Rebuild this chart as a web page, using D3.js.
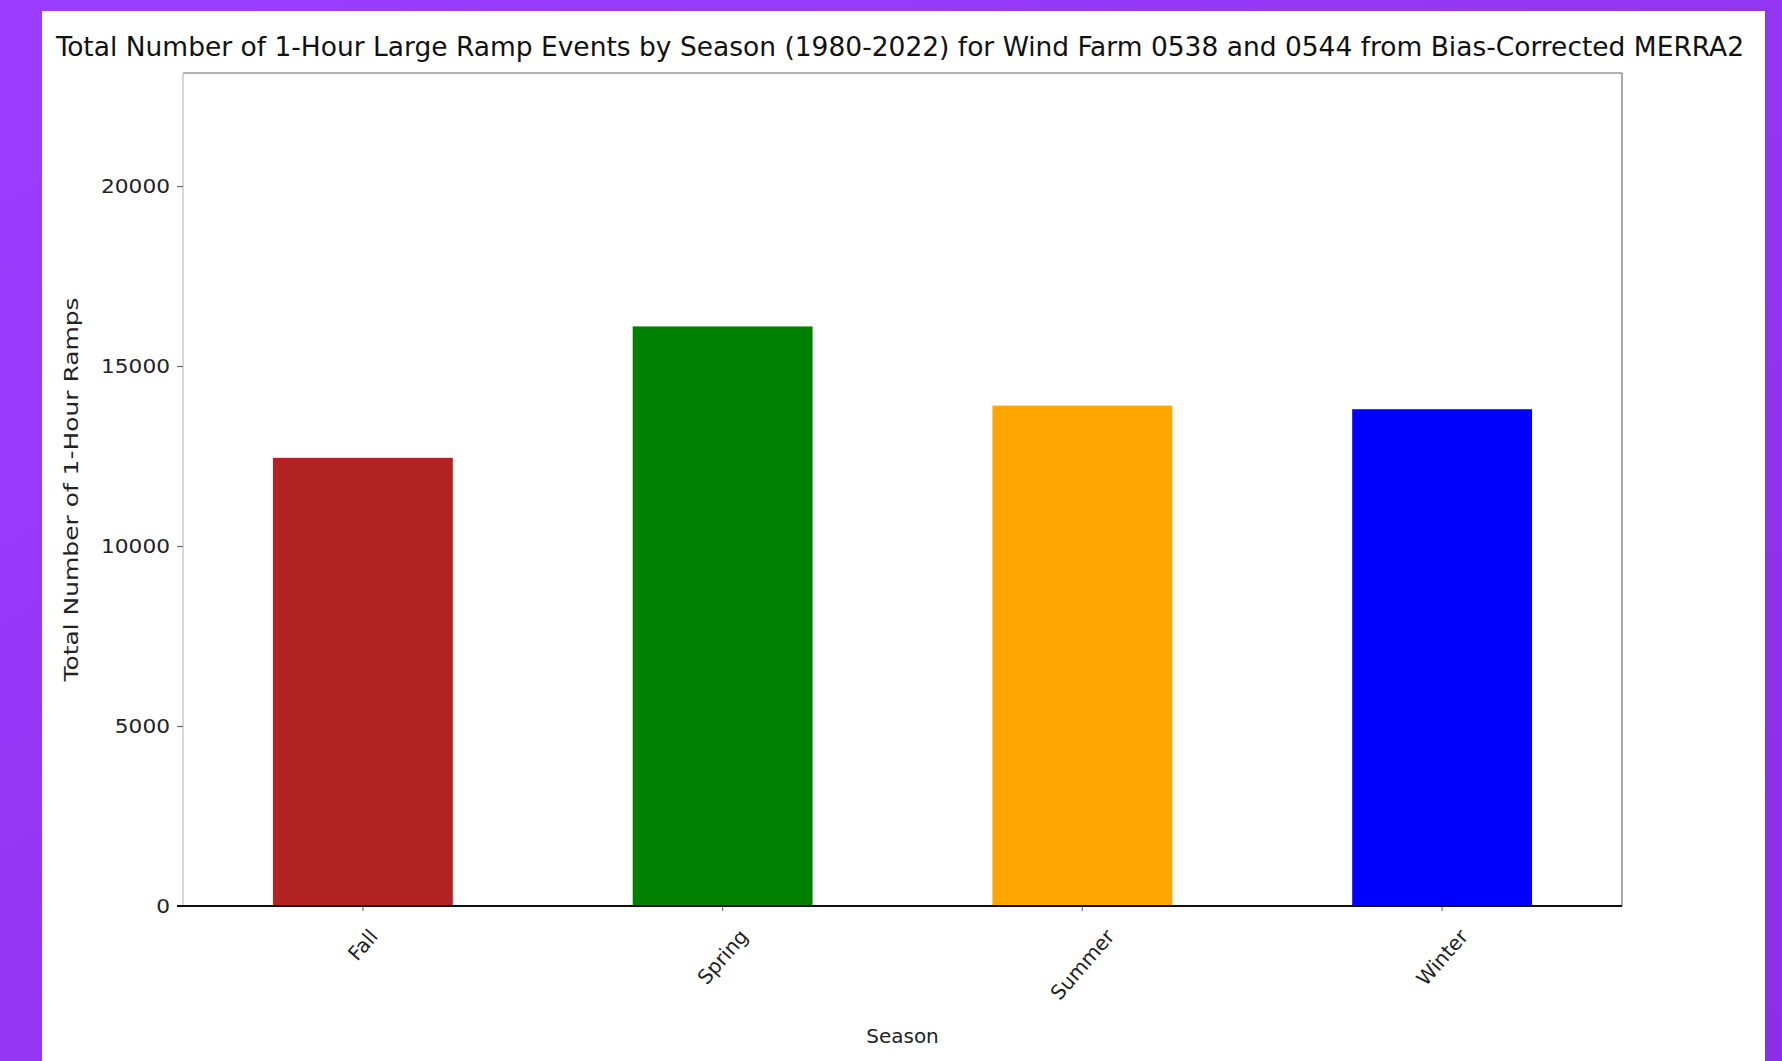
<!DOCTYPE html>
<html>
<head>
<meta charset="utf-8">
<script src="https://cdn.jsdelivr.net/npm/d3@7"></script>
<style>
  html, body { margin: 0; padding: 0; background: #9a3cff; }
  svg { display: block; }
</style>
</head>
<body>
<svg id="chart" width="1782" height="1061"></svg>
<script>
// Seasonal totals of 1-hour large ramp events
const seasons = ["Fall", "Spring", "Summer", "Winter"];
const rampCounts = [12450, 16100, 13900, 13800];
const barColors = ["#b22222", "#008000", "#ffa500", "#0000ff"];
const yTicks = [0, 5000, 10000, 15000, 20000];
const yMax = 23140;

const titleText = "Total Number of 1-Hour Large Ramp Events by Season (1980-2022) for Wind Farm 0538 and 0544 from Bias-Corrected MERRA2";
const xTitle = "Season";
const yTitle = "Total Number of 1-Hour Ramps";

const W = 1782, H = 1061;
const svg = d3.select("#chart");

// purple backdrop and white card
const defs = svg.append("defs");
const grad = defs.append("linearGradient").attr("id", "bg")
  .attr("x1", 0).attr("y1", 0).attr("x2", 1).attr("y2", 1);
grad.append("stop").attr("offset", "0%").attr("stop-color", "#9b3dff");
grad.append("stop").attr("offset", "100%").attr("stop-color", "#8a2fe6");
svg.append("rect").attr("width", W).attr("height", H).attr("fill", "url(#bg)");
svg.append("rect").attr("x", 42).attr("y", 11).attr("width", 1723).attr("height", H - 11)
  .attr("fill", "#ffffff");

const plot = { left: 183, right: 1622, top: 73, bottom: 906 };

const x = d3.scaleBand()
  .domain(seasons)
  .range([plot.left, plot.right])
  .paddingInner(0.5)
  .paddingOuter(0.25);

const y = d3.scaleLinear()
  .domain([0, yMax])
  .range([plot.bottom, plot.top]);

const font = "DejaVu Sans, sans-serif";
const condensed = "DejaVu Sans Condensed, DejaVu Sans, sans-serif";

// bars
svg.append("g").selectAll("rect")
  .data(seasons)
  .join("rect")
  .attr("x", d => x(d))
  .attr("width", x.bandwidth())
  .attr("y", (d, i) => y(rampCounts[i]))
  .attr("height", (d, i) => y(0) - y(rampCounts[i]))
  .attr("fill", (d, i) => barColors[i]);

// spines
svg.append("line").attr("x1", plot.left).attr("x2", plot.right)
  .attr("y1", plot.top).attr("y2", plot.top)
  .attr("stroke", "#9a9a9a").attr("stroke-width", 1.5);
svg.append("line").attr("x1", plot.right).attr("x2", plot.right)
  .attr("y1", plot.top).attr("y2", plot.bottom)
  .attr("stroke", "#8c8c8c").attr("stroke-width", 1.5);
svg.append("line").attr("x1", plot.left).attr("x2", plot.left)
  .attr("y1", plot.top).attr("y2", plot.bottom)
  .attr("stroke", "#c8c8c8").attr("stroke-width", 1.5);

// y axis
const yAxis = svg.append("g")
  .attr("transform", `translate(${plot.left},0)`)
  .call(d3.axisLeft(y).tickValues(yTicks).tickFormat(d3.format("d")).tickSizeOuter(0).tickSize(6).tickPadding(7));
yAxis.select(".domain").remove();
yAxis.selectAll(".tick line").attr("stroke", "#666").attr("stroke-width", 1.2);
yAxis.selectAll(".tick text")
  .attr("font-family", font).attr("font-size", 19).attr("fill", "#222")
  .each(function () {
    const t = d3.select(this);
    const n = t.text().length;
    t.attr("textLength", n * 13.8).attr("lengthAdjust", "spacingAndGlyphs");
  });

// x axis
const xAxis = svg.append("g")
  .attr("transform", `translate(0,${plot.bottom})`)
  .call(d3.axisBottom(x).tickSizeOuter(0).tickSize(5).tickPadding(0));
xAxis.select(".domain").remove();
xAxis.selectAll(".tick line").attr("stroke", "#777").attr("stroke-width", 1.2);
xAxis.selectAll(".tick text").remove();

// baseline
svg.append("line").attr("x1", plot.left - 6).attr("x2", plot.right)
  .attr("y1", plot.bottom).attr("y2", plot.bottom)
  .attr("stroke", "#111").attr("stroke-width", 2.2);

// rotated season labels, centred under each tick
const labelSize = 20;
const labelAngle = 49;
const labelTop = plot.bottom + 20;
const rad = labelAngle * Math.PI / 180;
svg.append("g").selectAll("text")
  .data(seasons)
  .join("text")
  .attr("font-family", font)
  .attr("font-size", labelSize)
  .attr("fill", "#222")
  .attr("text-anchor", "middle")
  .attr("dominant-baseline", "central")
  .text(d => d)
  .each(function (d) {
    const w = this.getComputedTextLength();
    const half = (w * Math.sin(rad) + labelSize * Math.cos(rad)) / 2;
    d3.select(this).attr("transform",
      `translate(${x(d) + x.bandwidth() / 2},${labelTop + half}) rotate(${-labelAngle})`);
  });

// axis titles
svg.append("text")
  .attr("x", (plot.left + plot.right) / 2).attr("y", 1036)
  .attr("text-anchor", "middle").attr("dominant-baseline", "central")
  .attr("font-family", font).attr("font-size", 20).attr("fill", "#222")
  .text(xTitle);

svg.append("text")
  .attr("transform", `translate(71,${(plot.top + plot.bottom) / 2}) rotate(-90)`)
  .attr("text-anchor", "middle").attr("dominant-baseline", "central")
  .attr("font-family", font).attr("font-size", 19).attr("fill", "#222")
  .attr("textLength", 384).attr("lengthAdjust", "spacingAndGlyphs")
  .text(yTitle);

// chart title
svg.append("text")
  .attr("x", 900).attr("y", 46)
  .attr("text-anchor", "middle").attr("dominant-baseline", "central")
  .attr("font-family", condensed).attr("font-size", 27).attr("fill", "#111")
  .attr("textLength", 1688).attr("lengthAdjust", "spacingAndGlyphs")
  .text(titleText);
</script>
</body>
</html>
